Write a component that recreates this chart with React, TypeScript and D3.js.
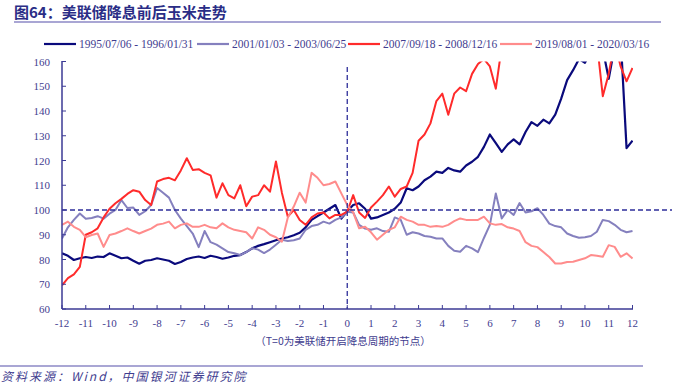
import React from "react";
import * as d3 from "d3";

const legendLabels = [
  "1995/07/06 - 1996/01/31",
  "2001/01/03 - 2003/06/25",
  "2007/09/18 - 2008/12/16",
  "2019/08/01 - 2020/03/16",
];
const seriesColors = ["#0a0a7c", "#8580be", "#ff2b2b", "#ff8c8c"];
const xTicks = d3.range(-12, 13);
const yTicks = [60, 70, 80, 90, 100, 110, 120, 130, 140, 150, 160];
const step = 0.25;

// values every 0.25 month from T=-12 to T=12
const s1995 = [
  82.5, 81.5, 79.8, 80.5, 81, 80.6, 81.2, 81, 82.5, 81.5, 80.5, 80.8, 79.5, 78.3, 79.5, 79.8,
  80.5, 80, 79.5, 78.2, 79, 80.2, 80.8, 81.2, 80.6, 81.5, 81, 80.3, 80.8, 81.5, 81.8, 83,
  84.5, 85.5, 86.2, 87, 87.8, 88.5, 89, 89.8, 90.8, 93, 96, 97.5, 99, 100.5, 102, 96.5,
  99.5, 102, 102.7, 100.5, 96.5, 97, 98, 99, 100.5, 103, 108.8, 108, 109.5, 112, 113.5, 115.5,
  115, 117, 116, 115.5, 118, 119.5, 121.5, 125.5, 130.5, 127, 123.5, 126.5, 128.5, 126.5, 131.5, 135.5,
  134, 136.5, 135, 138.5, 145, 152.5, 156.5, 161, 159.5, 164, 168, 165, 153, 166, 170, 125,
  128,
];
const s2001 = [
  88.5, 93, 96, 98.6, 96.5, 96.8, 97.5, 96.5, 98.5, 100, 104, 100.8, 101, 98, 99.5, 102,
  108.9, 107, 105, 100, 96.5, 93.5, 90.5, 85, 91.5, 87, 86, 84.5, 83, 82.5, 81.8, 83,
  84.6, 84, 82.6, 84, 86, 88, 87.5, 87.8, 88.5, 92, 93.5, 94, 95.3, 94.5, 96, 97,
  99.3, 99, 94, 92.5, 92, 92.6, 91.5, 91.2, 97, 96, 90, 91, 90.5, 89.5, 89.2, 88.5,
  88.5, 85.5, 83.5, 83.1, 85.5, 84.5, 83, 88.7, 94, 106.7, 96.6, 100, 98, 102.8, 99, 99.5,
  100.7, 98, 94.5, 93.5, 93, 90.5, 89.5, 88.8, 89, 89.5, 91.2, 96, 95.5, 94, 92, 91,
  91.5,
];
const s2007 = [
  69.6, 72.5, 74, 77, 90, 91, 92.6, 97, 100.5, 102.7, 104.5, 106.5, 108, 107.4, 104, 102,
  111.5, 112.5, 113, 112, 116, 120.9, 116.2, 116.5, 115, 114, 105, 110.8, 106, 104.7, 110, 101.5,
  105.4, 106, 110, 107.4, 119.6, 107, 97.3, 100, 96, 94, 97, 98.6, 99, 96.6, 98, 98,
  99.3, 106, 99, 96.8, 101, 103.4, 106, 109.5, 105.4, 108.5, 109.5, 115, 128, 130.5, 135, 144,
  147, 138.5, 147, 149.5, 148, 155, 159, 161, 158, 149, 166, 170, 172, 168, 170, 175,
  172, 170, 174, 171, 169, 173, 170, 168, 172, 170, 168, 146, 155, 168, 158, 152,
  157.4,
];
const s2019 = [
  94, 95.3, 93.2, 92, 89, 89.9, 90.5, 85.1, 89.9, 90.5, 91.5, 92.6, 91.5, 90.5, 91.5, 92.5,
  94, 94.5, 95.3, 92.6, 94, 94.6, 93.2, 93.2, 94, 93, 92.6, 94.6, 93, 92, 91.5, 91,
  88.5, 93, 92, 90, 89, 87.2, 97, 101.4, 107, 103, 115, 113, 110, 110.5, 111.5, 106.7,
  102, 99, 92.6, 93.2, 91, 88, 90, 92, 93, 97.3, 96, 95.3, 94, 94, 93.2, 93.5,
  93.2, 94, 95.5, 96.6, 96, 96, 96, 97.3, 94.6, 94, 94.3, 93, 92.5, 91.5, 87, 85.5,
  85, 83, 81, 78.4, 78.4, 79, 79.1, 79.8, 80.5, 81.8, 81.5, 81.1, 85.8, 85.1, 81.1, 82.5,
  80.4,
];
const allSeries = [s1995, s2001, s2007, s2019];

const W = 673;
const H = 385;
const axisColor = "#3b3a95";
const textColor = "#3f3d8f";

export default function App() {
  const x = d3.scaleLinear().domain([-12, 12]).range([62, 632.5]);
  const y = d3.scaleLinear().domain([60, 160]).range([309, 61.5]);
  const line = d3
    .line<number>()
    .x((_, i) => x(-12 + i * step))
    .y((d) => y(d));

  const legendX = [44, 197, 348, 500];

  return (
    <svg
      width={W}
      height={H}
      style={{ position: "absolute", left: 0, top: 0, background: "#fff" }}
      fontFamily="'Liberation Serif', 'Times New Roman', serif"
    >
      <defs>
        <clipPath id="plotclip">
          <rect x={62} y={61.5} width={571} height={248} />
        </clipPath>
      </defs>
      {/* title */}
      <text
        x={14}
        y={18}
        fontSize={15}
        fontWeight="bold"
        fill="#2a2d86"
        fontFamily="'Noto Sans CJK SC', sans-serif"
      >
        图64：美联储降息前后玉米走势
      </text>
      <line x1={14} x2={661} y1={22} y2={22} stroke="#8d88c6" strokeWidth={1.5} />

      {/* legend */}
      {legendLabels.map((lab, i) => (
        <g key={lab}>
          <line
            x1={legendX[i]}
            x2={legendX[i] + 32}
            y1={44}
            y2={44}
            stroke={seriesColors[i]}
            strokeWidth={2.2}
          />
          <text x={legendX[i] + 35} y={48} fontSize={11.5} fill={textColor}>
            {lab}
          </text>
        </g>
      ))}

      {/* series */}
      <g clipPath="url(#plotclip)">
        {allSeries.map((s, i) => (
          <path
            key={i}
            d={line(s) || ""}
            fill="none"
            stroke={seriesColors[i]}
            strokeWidth={i === 0 ? 2.2 : 2}
            strokeLinejoin="round"
          />
        ))}
      </g>

      {/* reference lines */}
      <line
        x1={x(-12)}
        x2={672}
        y1={y(100)}
        y2={y(100)}
        stroke="#2e2e9a"
        strokeWidth={1.3}
        strokeDasharray="5,3"
      />
      <line
        x1={x(0)}
        x2={x(0)}
        y1={67}
        y2={309}
        stroke="#2e2e9a"
        strokeWidth={1.3}
        strokeDasharray="5,3"
      />

      {/* axes */}
      <line x1={62} x2={62} y1={61} y2={309} stroke={axisColor} strokeWidth={1.5} />
      <line x1={62} x2={633} y1={309} y2={309} stroke={axisColor} strokeWidth={1.5} />
      {yTicks.map((t) => (
        <g key={t}>
          <line x1={62} x2={66} y1={y(t)} y2={y(t)} stroke={axisColor} strokeWidth={1} />
          <text x={50} y={y(t) + 4} fontSize={11} fill={textColor} textAnchor="end">
            {t}
          </text>
        </g>
      ))}
      {xTicks.map((t) => (
        <g key={t}>
          <line x1={x(t)} x2={x(t)} y1={309} y2={305} stroke={axisColor} strokeWidth={1} />
          <text x={x(t)} y={327} fontSize={11} fill={textColor} textAnchor="middle">
            {t}
          </text>
        </g>
      ))}

      {/* note */}
      <text
        x={343}
        y={345}
        fontSize={10.5}
        fill={textColor}
        textAnchor="middle"
        fontFamily="'Noto Sans CJK SC', sans-serif"
      >
        （T=0为美联储开启降息周期的节点）
      </text>
      <line x1={0} x2={643} y1={366} y2={366} stroke="#8d88c6" strokeWidth={1.5} />
      <text
        x={1}
        y={381}
        fontSize={12}
        fill={textColor}
        fontStyle="italic"
        letterSpacing={2}
        fontFamily="'Noto Sans CJK SC', sans-serif"
      >
        资料来源：Wind，中国银河证券研究院
      </text>
    </svg>
  );
}
